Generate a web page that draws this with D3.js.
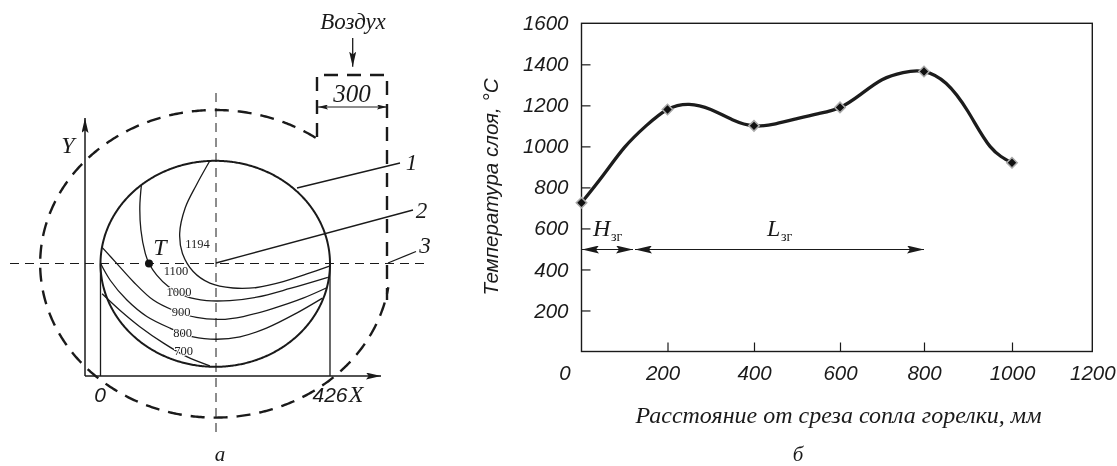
<!DOCTYPE html>
<html>
<head>
<meta charset="utf-8">
<script src="https://d3js.org/d3.v7.min.js"></script>
<style>
  html, body { margin: 0; padding: 0; background: #fff; }
  svg { display: block; will-change: transform; }
  text { fill: #1a1a1a; }
  .sans { font-family: "Liberation Sans", Arial, sans-serif; font-style: italic; }
  .serif { font-family: "Liberation Serif", serif; font-style: italic; }
  .iso { font-family: "Liberation Serif", serif; font-size: 12.5px; fill: #222; paint-order: stroke; stroke: #fff; stroke-width: 2px; }
</style>
</head>
<body>
<svg id="chart" width="1117" height="466"></svg>
<script>
// panel b: layer temperature along the burner
var distTicks = [0, 200, 400, 600, 800, 1000, 1200];
var tempTicks = [200, 400, 600, 800, 1000, 1200, 1400, 1600];
var pointDist = [0, 200, 400, 600, 800, 1000];
var pointTemp = [725, 1180, 1100, 1190, 1365, 920];
var curveDist = [0, 50, 100, 150, 200, 250, 300, 350, 400, 450, 500, 550, 600, 650, 700, 750, 800, 850, 900, 950, 1000];
var curveTemp = [725, 858, 995, 1100, 1180, 1205, 1180, 1130, 1100, 1110, 1135, 1160, 1190, 1255, 1325, 1360, 1365, 1308, 1170, 1000, 920];

// panel a: isotherms, mm across the section
var iso1194X = [203, 178, 157, 147, 152, 172, 203, 246, 290, 339, 383, 425];
var iso1194Y = [445, 395, 347, 295, 254, 216, 192, 182, 183, 195, 211, 227];
var iso1100X = [76, 73, 75, 83, 90, 104, 126, 160, 197, 240, 290, 352, 422];
var iso1100Y = [396, 350, 302, 254, 233, 209, 185, 164, 156, 156, 163, 181, 204];
var iso1000X = [3, 30, 61, 98, 135, 178, 222, 265, 321, 376, 421];
var iso1000Y = [266, 233, 195, 157, 136, 121, 117, 123, 140, 161, 183];
var iso900X = [0, 18, 49, 86, 129, 172, 216, 259, 308, 364, 412];
var iso900Y = [233, 198, 157, 123, 99, 81, 76, 81, 99, 130, 161];
var iso800X = [3, 36, 73, 117, 160, 203];
var iso800Y = [170, 136, 102, 68, 40, 21];
var isoLabels = ["1194", "1100", "1000", "900", "800", "700"];

var svg = d3.select("#chart");
var ink = "#1a1a1a";

function arrowDef(id, w, h) {
    svg.append("defs").append("marker")
        .attr("id", id)
        .attr("viewBox", "0 0 " + w + " " + h)
        .attr("refX", w).attr("refY", h / 2)
        .attr("markerWidth", w).attr("markerHeight", h)
        .attr("markerUnits", "userSpaceOnUse")
        .attr("orient", "auto-start-reverse")
        .append("path")
        .attr("d", "M0,0L" + w + "," + (h / 2) + "L0," + h + "L" + (w * 0.18) + "," + (h / 2) + "Z")
        .attr("fill", ink);
}
arrowDef("axisArrow", 15, 7);
arrowDef("dimArrow", 17, 8);
arrowDef("smallArrow", 10, 5);

function seg(g, x1, y1, x2, y2, w, dash) {
    return g.append("line")
        .attr("x1", x1).attr("y1", y1).attr("x2", x2).attr("y2", y2)
        .attr("stroke", ink).attr("stroke-width", w)
        .attr("stroke-dasharray", dash || null);
}
function label(g, cls, x, y, size, s, anchor) {
    return g.append("text").attr("class", cls)
        .attr("x", x).attr("y", y)
        .attr("font-size", size)
        .attr("text-anchor", anchor || "middle")
        .text(s);
}

/* PANEL A */
var a = svg.append("g");
var xA = d3.scaleLinear().domain([0, 426]).range([100.5, 330]);
var yA = d3.scaleLinear().domain([0, 445]).range([376, 160.8]);
var cx = 213, cy = 232;

function ring(rx, ry, from, to) {
    return d3.line()(d3.range(from, to, 0.01).map(function (t) {
        return [xA(cx + rx * Math.cos(t)), yA(cy + ry * Math.sin(t))];
    }));
}

// center lines
seg(a, 10, 263.5, 428, 263.5, 1, "9 6");
seg(a, 216, 93, 216, 433, 1, "9 6");

// axes
seg(a, 85, 376, 85, 118, 1.5).attr("marker-end", "url(#axisArrow)");
seg(a, 85, 376, 381, 376, 1.5).attr("marker-end", "url(#axisArrow)");
seg(a, xA(0), 263.5, xA(0), 376, 1.3);
seg(a, xA(426), 263.5, xA(426), 376, 1.3);

// section circle
a.append("path")
    .attr("d", ring(213, 213, 0, Math.PI * 2 + 0.02))
    .attr("fill", "none").attr("stroke", ink).attr("stroke-width", 2);

// isotherms
var isoLine = d3.line().x(function (d) { return xA(d[0]); }).y(function (d) { return yA(d[1]); }).curve(d3.curveCatmullRom);
[[iso1194X, iso1194Y], [iso1100X, iso1100Y], [iso1000X, iso1000Y], [iso900X, iso900Y], [iso800X, iso800Y]].forEach(function (c) {
    a.append("path")
        .attr("d", isoLine(d3.zip(c[0], c[1])))
        .attr("fill", "none").attr("stroke", ink).attr("stroke-width", 1.3);
});

var isoPos = [[197.5, 248], [176, 275], [179, 296], [181, 316], [182.5, 337], [183.5, 355]];
isoLabels.forEach(function (s, i) {
    a.append("text").attr("class", "iso").attr("x", isoPos[i][0]).attr("y", isoPos[i][1])
        .attr("text-anchor", "middle").text(s);
});

// dashed housing: outer arc, then the air duct
a.append("path")
    .attr("d", ring(325, 318, 0.96, 6.14))
    .attr("fill", "none").attr("stroke", ink).attr("stroke-width", 2.4).attr("stroke-dasharray", "14 9");
a.append("path")
    .attr("d", "M317,137L317,75L387,75L387,300")
    .attr("fill", "none").attr("stroke", ink).attr("stroke-width", 2.4).attr("stroke-dasharray", "14 9");

// T point
a.append("circle").attr("cx", xA(90)).attr("cy", 263.5).attr("r", 4).attr("fill", "#111");

// leaders
seg(a, 297, 188, 400, 163, 1.3);
seg(a, 216, 263, 413, 210, 1.3);
seg(a, 388, 263, 416, 251.5, 1.3);
seg(a, 352.7, 38, 352.7, 66.7, 1.3).attr("marker-end", "url(#axisArrow)");
seg(a, 318, 107, 387, 107, 1).attr("marker-start", "url(#smallArrow)").attr("marker-end", "url(#smallArrow)");

label(a, "serif", 353, 29, 23, "Воздух");
label(a, "serif", 352, 101.5, 25, "300");
label(a, "serif", 411.5, 170, 23, "1");
label(a, "serif", 421.5, 218, 23, "2");
label(a, "serif", 425, 253, 23, "3");
label(a, "serif", 160, 255, 24, "T");
label(a, "serif", 68, 153, 24, "Y");
label(a, "sans", 100, 402, 21, "0");
label(a, "sans", 330, 402, 21, "426");
label(a, "serif", 356, 402, 24, "X");
label(a, "serif", 220, 461, 21, "a");

/* PANEL B */
var b = svg.append("g");
var xB = d3.scaleLinear().domain(distTicks).range([581.5, 667.5, 754, 840, 924, 1012, 1092.3]);
var yB = d3.scaleLinear().domain([0, 1600]).range([351.5, 23.3]);

b.append("rect")
    .attr("x", xB(0)).attr("y", yB(1600))
    .attr("width", xB(1200) - xB(0)).attr("height", yB(0) - yB(1600))
    .attr("fill", "none").attr("stroke", ink).attr("stroke-width", 1.4);

var axisB = d3.axisBottom(xB).tickValues(distTicks).tickFormat(d3.format("d")).tickSize(-9).tickPadding(14).tickSizeOuter(0);
var axisL = d3.axisLeft(yB).tickValues(tempTicks).tickFormat(d3.format("d")).tickSize(-9).tickPadding(13).tickSizeOuter(0);
var gx = b.append("g").attr("transform", "translate(0," + yB(0) + ")").call(axisB);
var gy = b.append("g").attr("transform", "translate(" + xB(0) + ",0)").call(axisL);
[gx, gy].forEach(function (g) {
    g.select(".domain").remove();
    g.selectAll("line").attr("stroke", ink).attr("stroke-width", 1.2);
    g.selectAll("text").attr("class", "sans").attr("font-size", 20.5).attr("fill", ink);
});
gx.selectAll(".tick").filter(function (d) { return d === 0 || d === 1200; }).select("line").remove();
gy.selectAll(".tick").filter(function (d) { return d === 1600; }).select("line").remove();
gx.selectAll(".tick").filter(function (d) { return d === 0; }).select("text").attr("dx", -17);
gx.selectAll(".tick").filter(function (d) { return d === 200; }).select("text").attr("dx", -5);

var tempLine = d3.line().x(function (d) { return xB(d[0]); }).y(function (d) { return yB(d[1]); }).curve(d3.curveNatural);
b.append("path")
    .attr("d", tempLine(d3.zip(curveDist, curveTemp)))
    .attr("fill", "none").attr("stroke", "#1c1c1c").attr("stroke-width", 3.3);

b.selectAll("path.point")
    .data(d3.zip(pointDist, pointTemp))
    .enter().append("path")
    .attr("class", "point")
    .attr("d", d3.symbol().type(d3.symbolSquare).size(55))
    .attr("transform", function (d) { return "translate(" + xB(d[0]) + "," + yB(d[1]) + ") rotate(45)"; })
    .attr("fill", "#111").attr("stroke", "#aaa").attr("stroke-width", 1.5);

seg(b, 582, 249.5, 633, 249.5, 1.2).attr("marker-start", "url(#dimArrow)").attr("marker-end", "url(#dimArrow)");
seg(b, 635, 249.5, 924, 249.5, 1.2).attr("marker-start", "url(#dimArrow)").attr("marker-end", "url(#dimArrow)");

label(b, "serif", 593, 236, 24, "H", "start");
label(b, "serif", 611, 240.7, 14, "зг", "start").style("font-style", "normal");
label(b, "serif", 767, 236, 24, "L", "start");
label(b, "serif", 781, 240.7, 14, "зг", "start").style("font-style", "normal");

label(b, "serif", 838.5, 423, 24, "Расстояние от среза сопла горелки, мм");
label(b, "serif", 798, 461, 21, "б");
b.append("text").attr("class", "sans")
    .attr("transform", "translate(498,187) rotate(-90)")
    .attr("text-anchor", "middle").attr("font-size", 20.6)
    .text("Температура слоя, °С");
</script>
</body>
</html>
